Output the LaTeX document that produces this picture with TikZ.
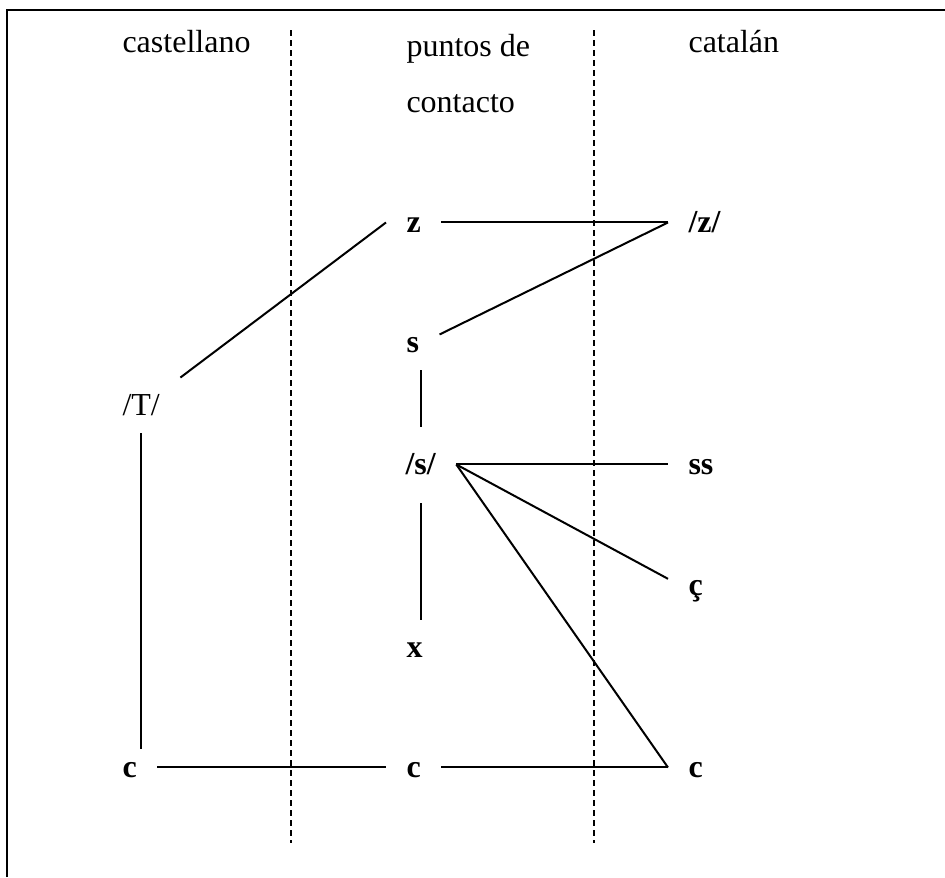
\documentclass[tikz,border=0pt]{standalone}
\usepackage{fontspec}
\setmainfont{Liberation Serif}
\usepackage{tikz}
\usetikzlibrary{calc}

\begin{document}
\begin{tikzpicture}[
  x=0.375pt, y=-0.375pt,
  head/.style={anchor=base west, inner sep=0pt, font=\fontsize{12pt}{21pt}\selectfont, align=left},
  phon/.style={anchor=base west, inner xsep=7.5pt, inner ysep=5.6pt,
    text height=8.25pt, text depth=1.1pt, font=\fontsize{12pt}{14pt}\selectfont\bfseries},
  plain/.style={phon, font=\fontsize{12pt}{14pt}\selectfont},
  link/.style={line width=0.75pt, black},
  sep/.style={line width=0.75pt, dash pattern=on 2.25pt off 1.5pt},
  frame/.style={line width=1pt},
]
  \useasboundingbox (0,0) rectangle (945,877);

  % --- frame and column separators ----------------------------------
  \draw[frame] (7,877) -- (7,10) -- (945,10);
  \draw[sep] (291,30) -- (291,843);
  \draw[sep] (594,30) -- (594,843);

  % --- column headings ----------------------------------------------
  \node[head] (cas) at (122,52) {castellano};
  \node[head] (pun) at (406,112) {puntos de\\contacto};
  \node[head] (cat) at (688,52) {catal\'an};

  % --- castellano -----------------------------------------------------
  \node[plain] (T)  at (102,415) {/T/};
  \node[phon]  (cl) at (102,777) {c};

  % --- puntos de contacto -------------------------------------------
  \node[phon] (z)   at (386,232) {z};
  \node[phon] (s)   at (386,352) {s};
  \node[phon] (sph) at (385,474) {/s/};
  \node[phon] (x)   at (386,657) {x};
  \node[phon] (cm)  at (386,777) {c};

  % --- catalan --------------------------------------------------------
  \node[phon] (zph)  at (668,232) {/z/};
  \node[phon] (ss)   at (668,474) {ss};
  \node[phon] (cced) at (668,595) {ç};
  \node[phon] (cr)   at (668,777) {c};

  % --- links -----------------------------------------------------------
  \draw[link] (T.north east) -- (z.west);
  \draw[link] (z.east) -- (zph.west);
  \draw[link] ([yshift=3pt]s.east) -- (zph.west);
  \draw[link, shorten >=3.75pt] (s.south -| sph.north) -- (sph.north);
  \draw[link] (sph.east) -- (ss.west);
  \draw[link] (sph.east) -- ([yshift=2.5pt]cced.west);
  \draw[link] (sph.east) -- (cr.west);
  \draw[link, shorten <=4pt] (sph.south) -- (sph.south |- x.north);
  \draw[link, shorten >=-3.4pt] (T.south) -- (T.south |- cl.north);
  \draw[link] (cl.east) -- (cm.west);
  \draw[link] (cm.east) -- (cr.west);
\end{tikzpicture}
\end{document}
